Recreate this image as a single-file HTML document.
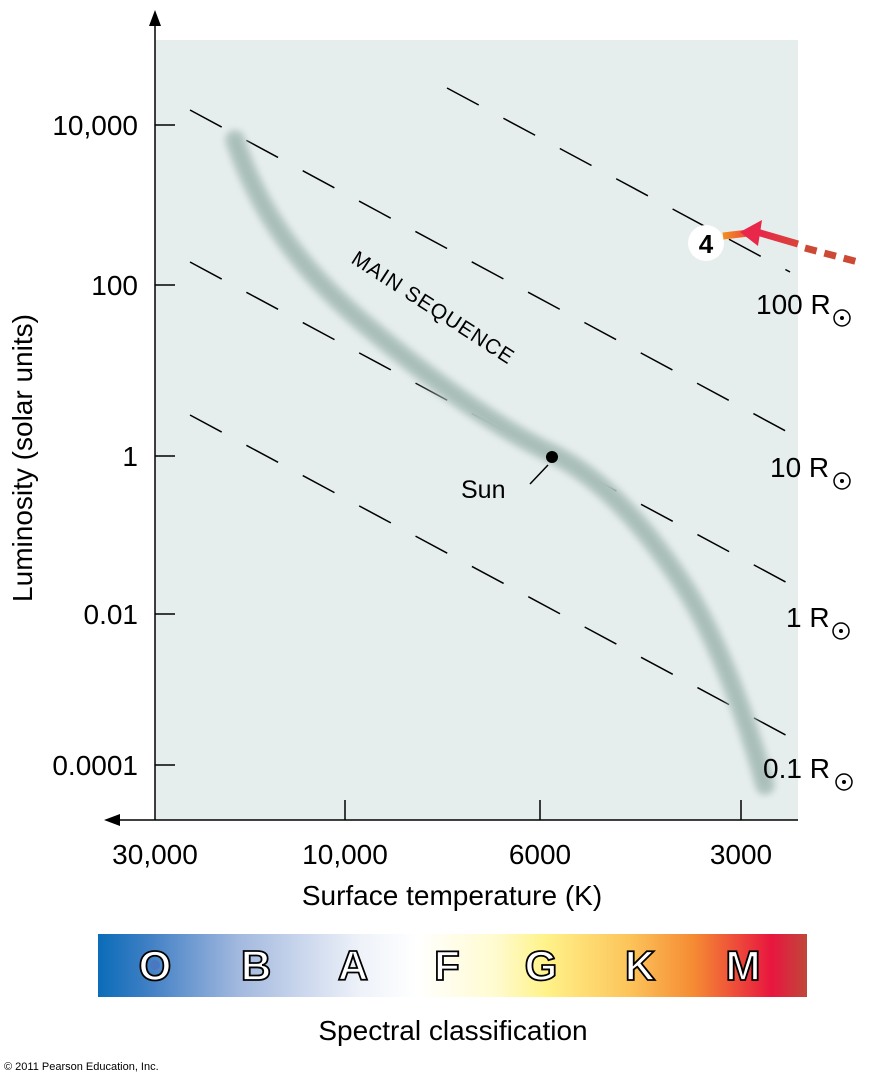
<!DOCTYPE html>
<html><head><style>
body{margin:0;background:#fff;width:869px;height:1080px;overflow:hidden;font-family:"Liberation Sans",sans-serif}
</style></head><body>
<svg width="869" height="1080" xmlns="http://www.w3.org/2000/svg" font-family="Liberation Sans, sans-serif">
<defs>
<filter id="b" x="-10%" y="-10%" width="120%" height="120%"><feGaussianBlur stdDeviation="3.5"/></filter>
<linearGradient id="sp" x1="0" x2="1">
<stop offset="0" stop-color="#0a6cb8"/><stop offset="0.07" stop-color="#3f7fc4"/>
<stop offset="0.2" stop-color="#a3b9df"/><stop offset="0.37" stop-color="#eef2f9"/>
<stop offset="0.45" stop-color="#ffffff"/><stop offset="0.56" stop-color="#fffbd0"/>
<stop offset="0.63" stop-color="#fff38a"/><stop offset="0.75" stop-color="#fcc45a"/>
<stop offset="0.84" stop-color="#f58b33"/><stop offset="0.95" stop-color="#e8163f"/>
<stop offset="1" stop-color="#c0473a"/></linearGradient>
<linearGradient id="ar" x1="0" x2="1"><stop offset="0" stop-color="#f39020"/><stop offset="0.5" stop-color="#e8274a"/><stop offset="1" stop-color="#d8453a"/></linearGradient>
</defs>
<rect x="155" y="40" width="643" height="780" fill="#e6eeed"/>
<g stroke="#000" stroke-width="1.5" stroke-dasharray="36,28" fill="none">
<line x1="190" y1="415" x2="795" y2="740"/>
<line x1="190" y1="262" x2="795" y2="587"/>
<line x1="190" y1="110" x2="795" y2="436"/>
<line x1="447" y1="88" x2="790" y2="272"/>
</g>
<path d="M235,140 C255,200 290,260 360,320 C430,380 500,430 555,455 C600,478 640,520 680,580 C720,640 750,730 765,785" stroke="#b3c6c1" stroke-width="20" fill="none" stroke-linecap="round" filter="url(#b)"/>
<path d="M235,140 C255,200 290,260 360,320 C430,380 500,430 555,455 C600,478 640,520 680,580 C720,640 750,730 765,785" stroke="#93aba5" stroke-width="5" fill="none" stroke-linecap="round" opacity="0.5" filter="url(#b)"/>
<text x="350" y="262" font-size="21" transform="rotate(33 350 262)" letter-spacing="1">MAIN SEQUENCE</text>
<circle cx="552" cy="457" r="6" fill="#000"/>
<line x1="548" y1="465" x2="530" y2="484" stroke="#000" stroke-width="1.5"/>
<text x="461" y="498" font-size="25">Sun</text>
<g stroke="#000" stroke-width="1.5" fill="none">
<line x1="155" y1="22" x2="155" y2="820"/>
<line x1="113" y1="820" x2="798" y2="820"/>
<line x1="155" y1="125" x2="175" y2="125"/><line x1="155" y1="285" x2="175" y2="285"/>
<line x1="155" y1="456" x2="175" y2="456"/><line x1="155" y1="614" x2="175" y2="614"/>
<line x1="155" y1="765" x2="175" y2="765"/>
<line x1="345" y1="820" x2="345" y2="800"/><line x1="540" y1="820" x2="540" y2="800"/>
<line x1="741" y1="820" x2="741" y2="800"/>
</g>
<polygon points="155,10 149,26 161,26" fill="#000"/>
<polygon points="104,820 120,814 120,826" fill="#000"/>
<g font-size="28" text-anchor="end">
<text x="138" y="135">10,000</text><text x="138" y="295">100</text><text x="138" y="466">1</text>
<text x="138" y="624">0.01</text><text x="138" y="775">0.0001</text></g>
<g font-size="28" text-anchor="middle">
<text x="155" y="864">30,000</text><text x="345" y="864">10,000</text><text x="540" y="864">6000</text><text x="741" y="864">3000</text>
<text x="452" y="905">Surface temperature (K)</text>
<text x="453" y="1040">Spectral classification</text></g>
<text transform="translate(32 458) rotate(-90)" font-size="28" text-anchor="middle">Luminosity (solar units)</text>
<g font-size="28">
<text x="756" y="314">100 R</text><text x="770" y="477">10 R</text><text x="786" y="627">1 R</text><text x="763" y="778">0.1 R</text></g>
<g fill="none" stroke="#000" stroke-width="1.5">
<circle cx="842" cy="318" r="8"/><circle cx="842" cy="481" r="8"/><circle cx="841" cy="631" r="8"/><circle cx="844" cy="782" r="8"/></g>
<g fill="#000"><circle cx="842" cy="318" r="2"/><circle cx="842" cy="481" r="2"/><circle cx="841" cy="631" r="2"/><circle cx="844" cy="782" r="2"/></g>
<circle cx="706" cy="243" r="18" fill="#fff"/>
<text x="706" y="253" font-size="26" font-weight="bold" text-anchor="middle">4</text>
<path d="M723,236 L757,232 L798,244" stroke="url(#ar)" stroke-width="7" fill="none"/>
<polygon points="740,232 762,220 758,246" fill="#e8274a"/>
<line x1="805" y1="248" x2="862" y2="263" stroke="#cc4a35" stroke-width="7" stroke-dasharray="12,8"/>
<rect x="98" y="934" width="709" height="63" fill="url(#sp)"/>
<g font-size="42" font-weight="bold" fill="#fff" stroke="#000" stroke-width="1.8" text-anchor="middle">
<text x="155" y="980">O</text><text x="256" y="980">B</text><text x="353" y="980">A</text>
<text x="447" y="980">F</text><text x="541" y="980">G</text><text x="640" y="980">K</text><text x="743" y="980">M</text></g>
<circle cx="155" cy="965" r="5" fill="#4a78c0"/>
<text x="4" y="1070" font-size="11">© 2011 Pearson Education, Inc.</text>
</svg>
</body></html>
